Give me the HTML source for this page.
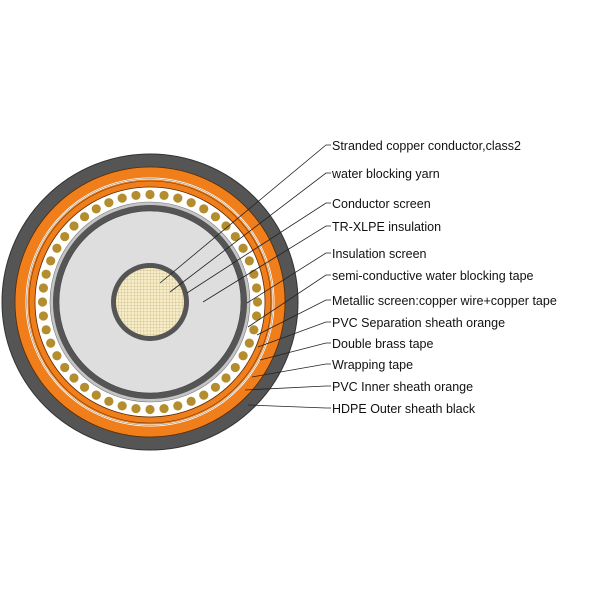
<!DOCTYPE html>
<html><head><meta charset="utf-8"><style>
html,body{margin:0;padding:0;background:#fff;}
svg{display:block;}
text{font-family:"Liberation Sans",Arial,sans-serif;font-size:12.5px;fill:#111;}
</style></head><body>
<svg id="s" width="600" height="600" viewBox="0 0 600 600" xmlns="http://www.w3.org/2000/svg">
<defs>
<pattern id="grid" width="3.2" height="3.2" patternUnits="userSpaceOnUse">
<rect width="3.2" height="3.2" fill="#f6eecb"/>
<path d="M0 0H3.2M0 0V3.2" stroke="#c9b37a" stroke-width="0.7"/>
</pattern>
</defs>
<g transform="translate(150,302)">
<circle r="148" fill="#555" stroke="#333" stroke-width="1"/>
<circle r="135" fill="#f07e1a" stroke="#5a2a00" stroke-width="0.8"/>
<circle r="123.5" fill="none" stroke="#fff" stroke-width="2"/>
<circle r="123.5" fill="none" stroke="#6a4a2a" stroke-width="0.4"/>
<circle r="121" fill="none" stroke="#6a3a10" stroke-width="0.6"/>
<circle r="115" fill="#fff" stroke="#5a2a00" stroke-width="0.8"/>
<g id="wires"></g>
<circle r="100" fill="#c4c4c4" stroke="#777" stroke-width="0.6"/>
<circle r="97" fill="#555"/>
<circle r="91" fill="#dedede" stroke="#444" stroke-width="0.6"/>
<circle r="39" fill="#555"/>
<circle r="34" fill="url(#grid)"/>
</g>
<g stroke="#222" stroke-width="0.8" fill="none">
<polyline points="160,283 326,145 331,145"/>
<polyline points="170,292 326,173 331,173"/>
<polyline points="187,293 326,203 331,203"/>
<polyline points="203,302 326,226 331,226"/>
<polyline points="247,303 326,253 331,253"/>
<polyline points="248,327 326,275 331,275"/>
<polyline points="257,335 326,300 331,300"/>
<polyline points="258,347 326,322 331,322"/>
<polyline points="260,360 326,343 331,343"/>
<polyline points="252,377 326,364 331,364"/>
<polyline points="245,390 326,386 331,386"/>
<polyline points="248,405 326,408 331,408"/>
</g>
<text x="332" y="150">Stranded copper conductor,class2</text>
<text x="332" y="178">water blocking yarn</text>
<text x="332" y="208">Conductor screen</text>
<text x="332" y="231">TR-XLPE insulation</text>
<text x="332" y="258">Insulation screen</text>
<text x="332" y="280">semi-conductive water blocking tape</text>
<text x="332" y="305">Metallic screen:copper wire+copper tape</text>
<text x="332" y="327">PVC Separation sheath orange</text>
<text x="332" y="348">Double brass tape</text>
<text x="332" y="369">Wrapping tape</text>
<text x="332" y="391">PVC Inner sheath orange</text>
<text x="332" y="413">HDPE Outer sheath black</text>
</svg>
<script>
var g=document.getElementById('wires'),n=48,s='';
for(var i=0;i<n;i++){var a=i/n*2*Math.PI;s+='<circle cx="'+(107.5*Math.cos(a)).toFixed(2)+'" cy="'+(107.5*Math.sin(a)).toFixed(2)+'" r="4.6" fill="#b38d2e"/>';}
g.innerHTML=s;
</script>
</body></html>
